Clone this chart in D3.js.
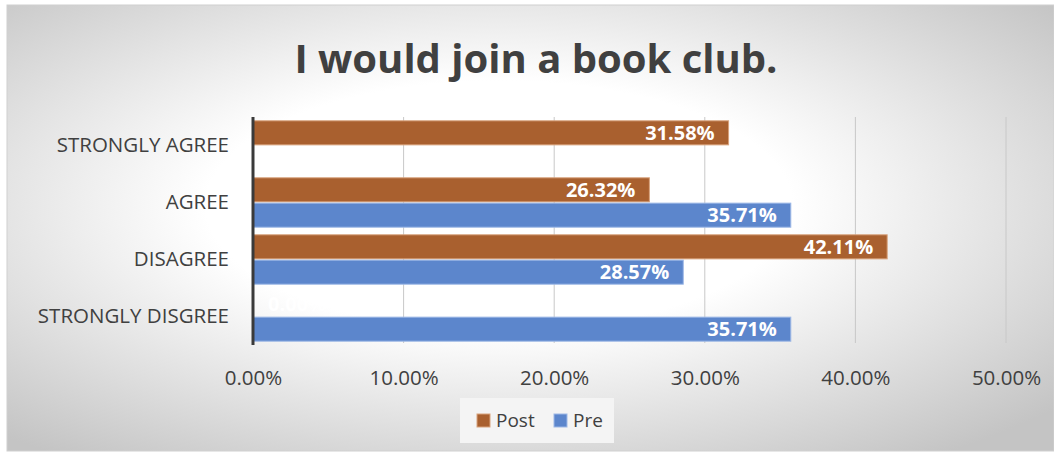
<!DOCTYPE html>
<html>
<head>
<meta charset="utf-8">
<script src="https://cdn.jsdelivr.net/npm/d3@7"></script>
<style>
  html, body { margin: 0; padding: 0; background: #ffffff; }
  svg { display: block; }
</style>
</head>
<body>
<svg id="chart" width="1054" height="456"></svg>
<script>
// Survey responses, share of respondents per answer
const categories = ["STRONGLY AGREE", "AGREE", "DISAGREE", "STRONGLY DISGREE"];
const postValues = [31.58, 26.32, 42.11, 0.00];
const preValues  = [0.00, 35.71, 28.57, 35.71];
const seriesNames = ["Post", "Pre"];
const tickValues = [0, 10, 20, 30, 40, 50];
const titleText = "I would join a book club.";

const colors = { Post: "#A9602F", Pre: "#5C86CC" };
const strokes = { Post: "#D8A27C", Pre: "#9DB8E6" };

const W = 1054, H = 456;
const svg = d3.select("#chart");
const defs = svg.append("defs");

// soft radial background of the chart area
const grad = defs.append("radialGradient")
  .attr("id", "bg").attr("cx", "47%").attr("cy", "45%").attr("r", "70%")
  .attr("gradientUnits", "objectBoundingBox");
grad.append("stop").attr("offset", "0%").attr("stop-color", "#ffffff");
grad.append("stop").attr("offset", "40%").attr("stop-color", "#ffffff");
grad.append("stop").attr("offset", "100%").attr("stop-color", "#c4c4c4");

svg.append("rect").attr("x", 7).attr("y", 5).attr("width", W - 7).attr("height", 446)
  .attr("fill", "url(#bg)").attr("stroke", "#d0d0d0").attr("stroke-width", 1);

const margin = { left: 253, right: 48, top: 117, bottom: 111 };
const x = d3.scaleLinear().domain([0, 50]).range([margin.left, W - margin.right]);
const y = d3.scaleBand().domain(categories).range([margin.top, H - margin.bottom]).paddingInner(0).paddingOuter(0);
const inner = d3.scaleBand().domain(seriesNames).range([0, y.bandwidth()]).paddingInner(0.05).paddingOuter(0.15);

const font = "'Open Sans', 'Liberation Sans', sans-serif";

// title
svg.append("text")
  .attr("x", 536).attr("y", 73)
  .attr("text-anchor", "middle")
  .style("font-family", font).style("font-weight", 700).style("font-size", "40px")
  .attr("fill", "#404040")
  .text(titleText);

// vertical grid
const grid = svg.append("g");
grid.selectAll("line").data(tickValues.filter(d => d > 0)).join("line")
  .attr("x1", d => x(d)).attr("x2", d => x(d))
  .attr("y1", margin.top).attr("y2", H - margin.bottom - 2)
  .attr("stroke", "#c8c8c8").attr("stroke-width", 1);

// x axis tick labels
const xAxis = d3.axisBottom(x).tickValues(tickValues).tickSize(0).tickPadding(0)
  .tickFormat(d => d.toFixed(2) + "%");
const gx = svg.append("g").attr("transform", `translate(0,${H - margin.bottom + 25})`).call(xAxis);
gx.select(".domain").remove();
gx.selectAll("text").style("font-family", font).style("font-size", "20.5px").attr("fill", "#404040")
  .attr("dy", "0.71em");

// category axis
const yAxis = d3.axisLeft(y).tickSize(0).tickPadding(24);
const gy = svg.append("g").attr("transform", `translate(${margin.left},0)`).call(yAxis);
gy.select(".domain").remove();
gy.selectAll("text").style("font-family", font).style("font-size", "20.5px").attr("fill", "#404040");

// bars
const rows = categories.map((c, i) => ({ cat: c, Post: postValues[i], Pre: preValues[i] }));
const groups = svg.append("g").selectAll("g").data(rows).join("g")
  .attr("transform", d => `translate(0,${y(d.cat)})`);

groups.selectAll("rect").data(d => seriesNames.map(s => ({ s, v: d[s] }))).join("rect")
  .attr("x", x(0)).attr("y", d => inner(d.s))
  .attr("width", d => x(d.v) - x(0))
  .attr("height", inner.bandwidth())
  .attr("fill", d => colors[d.s])
  .attr("stroke", d => d.v > 0 ? strokes[d.s] : "none").attr("stroke-width", 1);

groups.selectAll("text").data(d => seriesNames.map(s => ({ s, v: d[s] }))).join("text")
  .attr("x", d => d.v > 0 ? x(d.v) - 14 : x(0) + 15)
  .attr("y", d => inner(d.s) + inner.bandwidth() / 2)
  .attr("dy", "0.36em")
  .attr("text-anchor", d => d.v > 0 ? "end" : "start")
  .style("font-family", font).style("font-weight", 700).style("font-size", "20px")
  .attr("fill", "#ffffff")
  .text(d => d.v.toFixed(2) + "%");

// axis line at zero
svg.append("line")
  .attr("x1", x(0)).attr("x2", x(0))
  .attr("y1", margin.top).attr("y2", H - margin.bottom)
  .attr("stroke", "#3a3a3a").attr("stroke-width", 3);

// legend
const lg = svg.append("g").attr("transform", "translate(460,398)");
lg.append("rect").attr("width", 154).attr("height", 45).attr("fill", "#f4f4f4");
const items = [{ s: "Post", x: 17 }, { s: "Pre", x: 94 }];
items.forEach(it => {
  lg.append("rect").attr("x", it.x).attr("y", 16).attr("width", 13).attr("height", 13)
    .attr("fill", colors[it.s]).attr("stroke", strokes[it.s]).attr("stroke-width", 1);
  lg.append("text").attr("x", it.x + 19).attr("y", 22).attr("dy", "0.35em")
    .style("font-family", font).style("font-size", "19px").attr("fill", "#404040")
    .text(it.s);
});
</script>
</body>
</html>
